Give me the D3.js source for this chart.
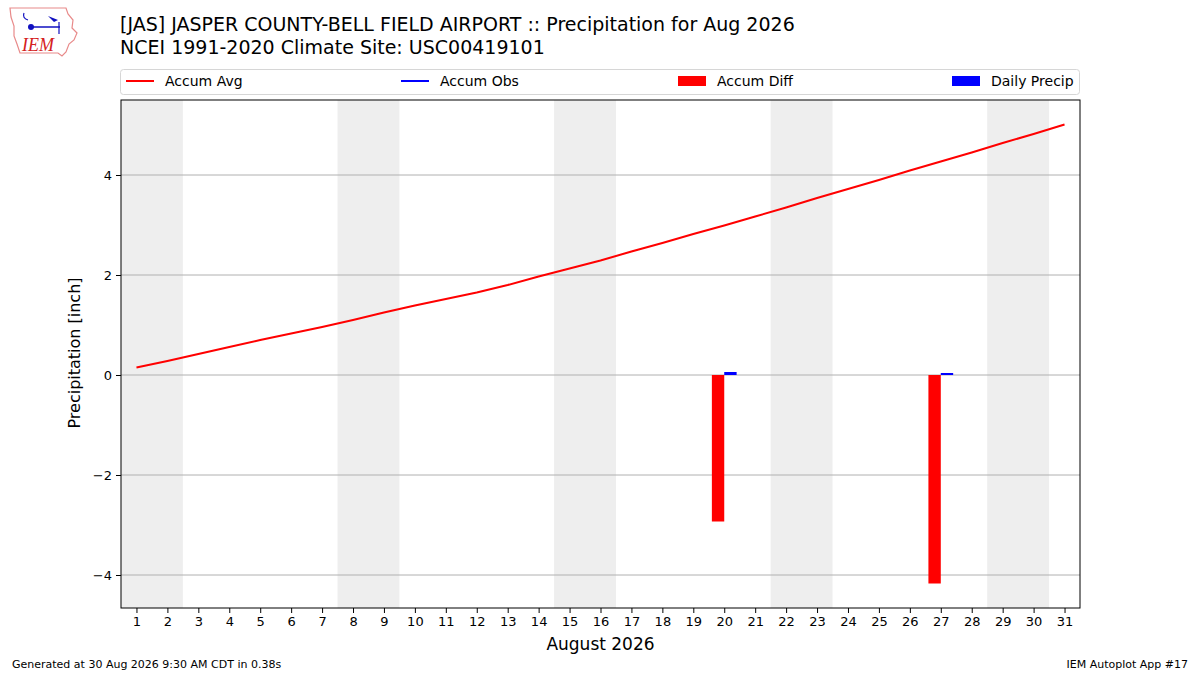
<!DOCTYPE html>
<html>
<head>
<meta charset="utf-8">
<script src="https://cdn.jsdelivr.net/npm/d3@7"></script>
<style>
  body { margin: 0; background: #fff; }
  svg { font-family: "DejaVu Sans", sans-serif; }
</style>
</head>
<body>
<svg id="chart" width="1200" height="675"></svg>
<script>
// days of August 2026
var days = d3.range(1, 32);

// climatology accumulated precip (inch)
var accumAvg = [0.15, 0.28, 0.42, 0.56, 0.70, 0.83, 0.96, 1.10, 1.25, 1.39,
                1.52, 1.65, 1.80, 1.97, 2.13, 2.29, 2.47, 2.64, 2.82, 2.99,
                3.17, 3.35, 3.54, 3.72, 3.90, 4.09, 4.27, 4.45, 4.64, 4.82, 5.01];

// observed data only exists for two days
var obsDays = [20, 27];
var dailyPrecip = [0.06, 0.04];
var accumObs = [0.06, 0.10];
var accumDiff = [-2.93, -4.17];

// weekend spans (Sat/Sun)
var weekends = [[1, 2], [8, 9], [15, 16], [22, 23], [29, 30]];

var yTicks = [-4, -2, 0, 2, 4];

var svg = d3.select('#chart');
var margin = {top: 100, right: 120, bottom: 67, left: 121},
    width = 1200 - margin.left - margin.right,
    height = 675 - margin.top - margin.bottom;

var x = d3.scaleLinear().domain([0.5, 31.5]).range([0, width]);
var y = d3.scaleLinear().domain([-4.66, 5.5]).range([height, 0]);

var g = svg.append('g')
    .attr('transform', 'translate(' + margin.left + ',' + margin.top + ')');

g.append('clipPath').attr('id', 'clip')
  .append('rect').attr('width', width).attr('height', height);

var plot = g.append('g').attr('clip-path', 'url(#clip)');

// weekend shading
plot.selectAll('rect.wk')
    .data(weekends)
  .enter().append('rect')
    .attr('class', 'wk')
    .attr('x', function(d) { return x(d[0] - 0.5); })
    .attr('width', function(d) { return x(d[1] + 0.5) - x(d[0] - 0.5); })
    .attr('y', 0)
    .attr('height', height)
    .style('fill', '#eeeeee');

// grid
plot.selectAll('line.grid')
    .data(yTicks)
  .enter().append('line')
    .attr('x1', 0).attr('x2', width)
    .attr('y1', function(d) { return y(d); })
    .attr('y2', function(d) { return y(d); })
    .style('stroke', '#b0b0b0')
    .style('stroke-width', '1px');

// accum diff bars (left of day) and daily precip bars (right of day)
plot.selectAll('rect.diff')
    .data(obsDays)
  .enter().append('rect')
    .attr('x', function(d) { return x(d - 0.4); })
    .attr('width', x(0.9) - x(0.5))
    .attr('y', function(d, i) { return y(Math.max(0, accumDiff[i])); })
    .attr('height', function(d, i) { return Math.abs(y(accumDiff[i]) - y(0)); })
    .style('fill', '#ff0000');

plot.selectAll('rect.daily')
    .data(obsDays)
  .enter().append('rect')
    .attr('x', function(d) { return x(d); })
    .attr('width', x(0.9) - x(0.5))
    .attr('y', function(d, i) { return y(dailyPrecip[i]); })
    .attr('height', function(d, i) { return y(0) - y(dailyPrecip[i]); })
    .style('fill', '#0000ff');

// accum avg line
var line = d3.line()
    .x(function(d, i) { return x(days[i]); })
    .y(function(d) { return y(d); });

plot.append('path')
    .datum(accumAvg)
    .attr('d', line)
    .style('fill', 'none')
    .style('stroke', '#ff0000')
    .style('stroke-width', '2px');

// accum obs line (only isolated points, so nothing visible)
var obsSeries = days.map(function(d) {
  var k = obsDays.indexOf(d);
  return k < 0 ? null : accumObs[k];
});
plot.append('path')
    .datum(obsSeries)
    .attr('d', d3.line()
        .defined(function(d) { return d !== null; })
        .x(function(d, i) { return x(days[i]); })
        .y(function(d) { return y(d); }))
    .style('fill', 'none')
    .style('stroke', '#0000ff')
    .style('stroke-width', '2px');

// axes
var xAxis = g.append('g')
    .attr('transform', 'translate(0,' + height + ')')
    .call(d3.axisBottom(x).tickValues(days).tickSize(5).tickPadding(4));
var yAxis = g.append('g')
    .call(d3.axisLeft(y).tickValues(yTicks).tickSize(5).tickPadding(4)
        .tickFormat(function(d) { return d < 0 ? '\u2212' + Math.abs(d) : d; }));

[xAxis, yAxis].forEach(function(a) {
  a.selectAll('text').style('font-size', '13px').style('fill', '#000')
      .style('font-family', '"DejaVu Sans", sans-serif');
  a.selectAll('line').style('stroke', '#000');
  a.select('.domain').remove();
});

g.append('rect')
    .attr('width', width).attr('height', height)
    .style('fill', 'none').style('stroke', '#000').style('stroke-width', '1px');

// axis labels
g.append('text')
    .attr('x', width / 2).attr('y', height + 42)
    .attr('text-anchor', 'middle')
    .style('font-size', '17px')
    .text('August 2026');

g.append('text')
    .attr('transform', 'translate(' + (-41) + ',' + (height / 2 - 1) + ') rotate(-90)')
    .attr('text-anchor', 'middle')
    .style('font-size', '16px')
    .text('Precipitation [inch]');

// titles
svg.append('text').attr('x', 120).attr('y', 31)
    .style('font-size', '19px')
    .text('[JAS] JASPER COUNTY-BELL FIELD AIRPORT :: Precipitation for Aug 2026');
svg.append('text').attr('x', 120).attr('y', 54)
    .style('font-size', '19px')
    .text('NCEI 1991-2020 Climate Site: USC00419101');

// legend
var legend = svg.append('g');
legend.append('rect')
    .attr('x', 120.5).attr('y', 69.5).attr('width', 959).attr('height', 25)
    .attr('rx', 3)
    .style('fill', '#fff').style('stroke', '#d6d6d6');

var legendItems = [
  {label: 'Accum Avg', color: '#ff0000', kind: 'line', x: 126},
  {label: 'Accum Obs', color: '#0000ff', kind: 'line', x: 401},
  {label: 'Accum Diff', color: '#ff0000', kind: 'patch', x: 678},
  {label: 'Daily Precip', color: '#0000ff', kind: 'patch', x: 952}
];
legendItems.forEach(function(it) {
  if (it.kind === 'line') {
    legend.append('line')
        .attr('x1', it.x).attr('x2', it.x + 28)
        .attr('y1', 81).attr('y2', 81)
        .style('stroke', it.color).style('stroke-width', '2px');
  } else {
    legend.append('rect')
        .attr('x', it.x).attr('y', 76).attr('width', 28).attr('height', 10)
        .style('fill', it.color);
  }
  legend.append('text')
      .attr('x', it.x + 39).attr('y', 86)
      .style('font-size', '14px')
      .text(it.label);
});

// footer
svg.append('text').attr('x', 12).attr('y', 668)
    .style('font-size', '11px')
    .text('Generated at 30 Aug 2026 9:30 AM CDT in 0.38s');
svg.append('text').attr('x', 1188).attr('y', 668)
    .attr('text-anchor', 'end')
    .style('font-size', '11px')
    .text('IEM Autoplot App #17');

// logo: rough Iowa outline with IEM mark
var logo = svg.append('g');
logo.append('path')
    .attr('d', 'M10,8 L66,8 L68,14 L73,20 L72,28 L77,33 L74,40 L69,44 L66,52 L62,56 L58,53 L20,53 L17,44 L14,36 L14,26 L11,17 Z')
    .style('fill', 'none').style('stroke', '#e88a8a').style('stroke-width', '1.2px');
logo.append('line').attr('x1', 30).attr('y1', 27).attr('x2', 60).attr('y2', 27)
    .style('stroke', '#1010c0').style('stroke-width', '1.5px');
logo.append('circle').attr('cx', 31).attr('cy', 27).attr('r', 3).style('fill', '#1010c0');
logo.append('path').attr('d', 'M48,16 L58,20 L54,22 Z').style('fill', '#1010c0');
logo.append('path').attr('d', 'M24,13 Q22,18 28,20').style('fill', 'none')
    .style('stroke', '#1010c0').style('stroke-width', '1.2px');
logo.append('line').attr('x1', 59).attr('y1', 22).attr('x2', 59).attr('y2', 34)
    .style('stroke', '#1010c0').style('stroke-width', '1.2px');
logo.append('text').attr('x', 22).attr('y', 51)
    .style('font-family', '"Liberation Serif", serif')
    .style('font-style', 'italic')
    .style('font-size', '18px')
    .style('fill', '#d42020')
    .text('IEM');
</script>
</body>
</html>
